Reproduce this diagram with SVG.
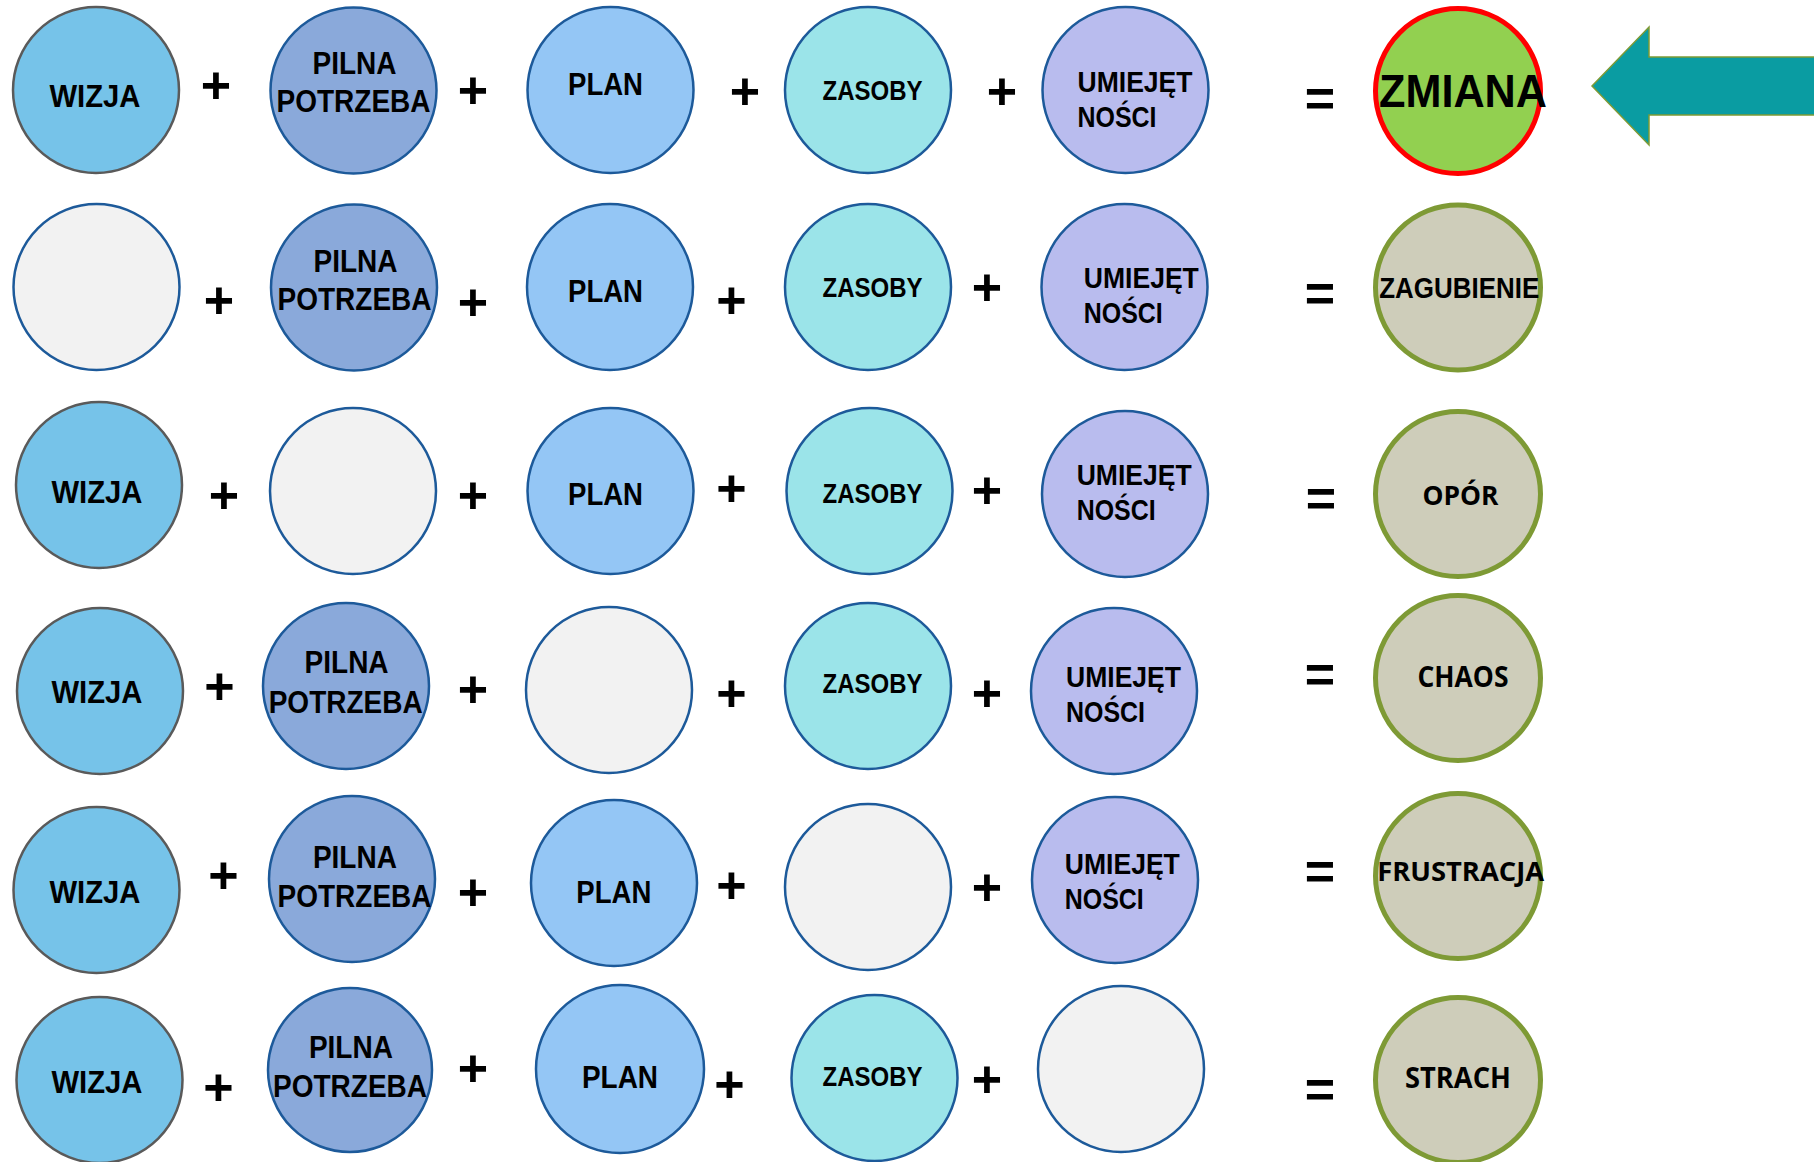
<svg xmlns="http://www.w3.org/2000/svg" width="1814" height="1162" viewBox="0 0 1814 1162">
<style>
.c{stroke-width:2.5}
.wiz{fill:#76C3E9;stroke:#5A5A5A}
.pil{fill:#8AA9DA;stroke:#1D5A9A}
.pla{fill:#94C6F5;stroke:#1D5A9A}
.zas{fill:#9BE4E9;stroke:#1D5A9A}
.umi{fill:#B9BCEE;stroke:#1D5A9A}
.emp{fill:#F2F2F2;stroke:#1D5A9A}
.res{fill:#CECDBA;stroke:#7E9A35;stroke-width:5}
.zm{fill:#92D050;stroke:#FF0000;stroke-width:5}
.t{font-family:"Liberation Sans",Arial,sans-serif;font-weight:bold;font-size:31.5px;fill:#000}
.m{text-anchor:middle}
.r{font-family:"Open Sans","Liberation Sans",sans-serif;font-weight:bold;font-size:27px;fill:#000;text-anchor:middle}
.op{font-family:"Liberation Sans",Arial,sans-serif;font-weight:bold;font-size:52px;fill:#000;text-anchor:middle;dominant-baseline:central}
</style>

<g id="row1">
<g id="r1-wizja"><circle class="c wiz" cx="96" cy="90" r="83"/><text class="t m" x="95" y="107" textLength="91" lengthAdjust="spacingAndGlyphs">WIZJA</text></g>
<g id="r1-pilna"><circle class="c pil" cx="353.5" cy="90.5" r="83"/><text class="t m" x="354.5" y="74" textLength="84" lengthAdjust="spacingAndGlyphs">PILNA</text><text class="t m" x="353.5" y="111.5" textLength="154" lengthAdjust="spacingAndGlyphs">POTRZEBA</text></g>
<g id="r1-plan"><circle class="c pla" cx="610.5" cy="90" r="83"/><text class="t m" x="605.5" y="95" textLength="75" lengthAdjust="spacingAndGlyphs">PLAN</text></g>
<g id="r1-zasoby"><circle class="c zas" cx="868" cy="90" r="83"/><text class="t m" x="872.5" y="100" style="font-size:28.5px" textLength="100" lengthAdjust="spacingAndGlyphs">ZASOBY</text></g>
<g id="r1-umiej"><circle class="c umi" cx="1125.5" cy="90" r="83"/><text class="t" x="1077.5" y="91.7" style="font-size:29.5px" textLength="115" lengthAdjust="spacingAndGlyphs">UMIEJĘT</text><text class="t" x="1077.5" y="126.7" style="font-size:29.5px" textLength="79" lengthAdjust="spacingAndGlyphs">NOŚCI</text></g>
<g id="r1-zmiana"><circle class="zm" cx="1458" cy="91" r="82.5"/><text class="t m" x="1463" y="106.7" style="font-size:47px" textLength="168" lengthAdjust="spacingAndGlyphs">ZMIANA</text></g>
</g>

<g id="row2">
<g id="r2-empty"><circle class="c emp" cx="96.5" cy="287" r="83"/></g>
<g id="r2-pilna"><circle class="c pil" cx="354" cy="287.5" r="83"/><text class="t m" x="355.5" y="271.7" textLength="84" lengthAdjust="spacingAndGlyphs">PILNA</text><text class="t m" x="354.5" y="310" textLength="154" lengthAdjust="spacingAndGlyphs">POTRZEBA</text></g>
<g id="r2-plan"><circle class="c pla" cx="610" cy="287" r="83"/><text class="t m" x="605.5" y="301.7" textLength="75" lengthAdjust="spacingAndGlyphs">PLAN</text></g>
<g id="r2-zasoby"><circle class="c zas" cx="868" cy="287" r="83"/><text class="t m" x="872.5" y="296.7" style="font-size:28.5px" textLength="100" lengthAdjust="spacingAndGlyphs">ZASOBY</text></g>
<g id="r2-umiej"><circle class="c umi" cx="1124.5" cy="287" r="83"/><text class="t" x="1083.8" y="288.3" style="font-size:29.5px" textLength="115" lengthAdjust="spacingAndGlyphs">UMIEJĘT</text><text class="t" x="1083.8" y="322.7" style="font-size:29.5px" textLength="79" lengthAdjust="spacingAndGlyphs">NOŚCI</text></g>
<g id="r2-zagubienie"><circle class="res" cx="1458" cy="287.5" r="82.5"/><text class="t m" x="1459.2" y="298.3" style="font-size:29px" textLength="160" lengthAdjust="spacingAndGlyphs">ZAGUBIENIE</text></g>
</g>

<g id="row3">
<g id="r3-wizja"><circle class="c wiz" cx="99" cy="485" r="83"/><text class="t m" x="96.9" y="503.3" textLength="91" lengthAdjust="spacingAndGlyphs">WIZJA</text></g>
<g id="r3-empty"><circle class="c emp" cx="353" cy="491" r="83"/></g>
<g id="r3-plan"><circle class="c pla" cx="610.5" cy="491" r="83"/><text class="t m" x="605.5" y="505" textLength="75" lengthAdjust="spacingAndGlyphs">PLAN</text></g>
<g id="r3-zasoby"><circle class="c zas" cx="869.5" cy="491" r="83"/><text class="t m" x="872.5" y="503.3" style="font-size:28.5px" textLength="100" lengthAdjust="spacingAndGlyphs">ZASOBY</text></g>
<g id="r3-umiej"><circle class="c umi" cx="1125" cy="494" r="83"/><text class="t" x="1076.7" y="485" style="font-size:29.5px" textLength="115" lengthAdjust="spacingAndGlyphs">UMIEJĘT</text><text class="t" x="1076.7" y="520" style="font-size:29.5px" textLength="79" lengthAdjust="spacingAndGlyphs">NOŚCI</text></g>
<g id="r3-opor"><circle class="res" cx="1458" cy="494" r="82.5"/><text class="r" x="1460.5" y="505" textLength="76" lengthAdjust="spacingAndGlyphs">OPÓR</text></g>
</g>

<g id="row4">
<g id="r4-wizja"><circle class="c wiz" cx="100" cy="691" r="83"/><text class="t m" x="96.9" y="702.7" textLength="91" lengthAdjust="spacingAndGlyphs">WIZJA</text></g>
<g id="r4-pilna"><circle class="c pil" cx="346" cy="686" r="83"/><text class="t m" x="346.6" y="673.3" textLength="84" lengthAdjust="spacingAndGlyphs">PILNA</text><text class="t m" x="345.7" y="712.7" textLength="154" lengthAdjust="spacingAndGlyphs">POTRZEBA</text></g>
<g id="r4-empty"><circle class="c emp" cx="609" cy="690" r="83"/></g>
<g id="r4-zasoby"><circle class="c zas" cx="868" cy="686" r="83"/><text class="t m" x="872.5" y="693.3" style="font-size:28.5px" textLength="100" lengthAdjust="spacingAndGlyphs">ZASOBY</text></g>
<g id="r4-umiej"><circle class="c umi" cx="1114" cy="691" r="83"/><text class="t" x="1066" y="686.7" style="font-size:29.5px" textLength="115" lengthAdjust="spacingAndGlyphs">UMIEJĘT</text><text class="t" x="1066" y="721.7" style="font-size:29.5px" textLength="79" lengthAdjust="spacingAndGlyphs">NOŚCI</text></g>
<g id="r4-chaos"><circle class="res" cx="1458" cy="678" r="82.5"/><text class="r" x="1463" y="687.3" style="font-size:28px" textLength="91" lengthAdjust="spacingAndGlyphs">CHAOS</text></g>
</g>

<g id="row5">
<g id="r5-wizja"><circle class="c wiz" cx="96.5" cy="890" r="83"/><text class="t m" x="94.9" y="903.3" textLength="91" lengthAdjust="spacingAndGlyphs">WIZJA</text></g>
<g id="r5-pilna"><circle class="c pil" cx="352" cy="879" r="83"/><text class="t m" x="354.9" y="868.3" textLength="84" lengthAdjust="spacingAndGlyphs">PILNA</text><text class="t m" x="354.5" y="906.7" textLength="154" lengthAdjust="spacingAndGlyphs">POTRZEBA</text></g>
<g id="r5-plan"><circle class="c pla" cx="614" cy="883" r="83"/><text class="t m" x="613.8" y="903.3" textLength="75" lengthAdjust="spacingAndGlyphs">PLAN</text></g>
<g id="r5-empty"><circle class="c emp" cx="868" cy="887" r="83"/></g>
<g id="r5-umiej"><circle class="c umi" cx="1115" cy="880" r="83"/><text class="t" x="1064.8" y="874" style="font-size:29.5px" textLength="115" lengthAdjust="spacingAndGlyphs">UMIEJĘT</text><text class="t" x="1064.8" y="909" style="font-size:29.5px" textLength="79" lengthAdjust="spacingAndGlyphs">NOŚCI</text></g>
<g id="r5-frustracja"><circle class="res" cx="1458" cy="876" r="82.5"/><text class="r" x="1460.7" y="880.7" style="font-size:26px" textLength="167" lengthAdjust="spacingAndGlyphs">FRUSTRACJA</text></g>
</g>

<g id="row6">
<g id="r6-wizja"><circle class="c wiz" cx="99.5" cy="1080" r="83"/><text class="t m" x="96.9" y="1093.3" textLength="91" lengthAdjust="spacingAndGlyphs">WIZJA</text></g>
<g id="r6-pilna"><circle class="c pil" cx="350" cy="1070" r="82"/><text class="t m" x="350.9" y="1058.3" textLength="84" lengthAdjust="spacingAndGlyphs">PILNA</text><text class="t m" x="350" y="1096.7" textLength="154" lengthAdjust="spacingAndGlyphs">POTRZEBA</text></g>
<g id="r6-plan"><circle class="c pla" cx="620" cy="1069" r="84"/><text class="t m" x="620" y="1088.3" textLength="76" lengthAdjust="spacingAndGlyphs">PLAN</text></g>
<g id="r6-zasoby"><circle class="c zas" cx="874.5" cy="1078" r="83"/><text class="t m" x="872.5" y="1086" style="font-size:28.5px" textLength="100" lengthAdjust="spacingAndGlyphs">ZASOBY</text></g>
<g id="r6-empty"><circle class="c emp" cx="1121" cy="1069" r="83"/></g>
<g id="r6-strach"><circle class="res" cx="1458" cy="1080" r="82.5"/><text class="r" x="1458" y="1088" style="font-size:28px" textLength="106" lengthAdjust="spacingAndGlyphs">STRACH</text></g>
</g>

<g id="operators">
<text class="op" x="216" y="85">+</text><text class="op" x="473" y="90">+</text><text class="op" x="745" y="91">+</text><text class="op" x="1002" y="91">+</text><text class="op" x="1320" y="98">=</text>
<text class="op" x="219" y="300">+</text><text class="op" x="473" y="302">+</text><text class="op" x="731.5" y="300">+</text><text class="op" x="987" y="287">+</text><text class="op" x="1320" y="293">=</text>
<text class="op" x="224" y="495">+</text><text class="op" x="473" y="495">+</text><text class="op" x="731.5" y="487.5">+</text><text class="op" x="987" y="490">+</text><text class="op" x="1321" y="498">=</text>
<text class="op" x="219.5" y="686">+</text><text class="op" x="473" y="689">+</text><text class="op" x="731.5" y="693">+</text><text class="op" x="987" y="692.5">+</text><text class="op" x="1320" y="674">=</text>
<text class="op" x="223.5" y="875">+</text><text class="op" x="473" y="892">+</text><text class="op" x="731.5" y="885">+</text><text class="op" x="987" y="887">+</text><text class="op" x="1320" y="871">=</text>
<text class="op" x="218.5" y="1087">+</text><text class="op" x="473" y="1068">+</text><text class="op" x="729.5" y="1084">+</text><text class="op" x="987" y="1079">+</text><text class="op" x="1320" y="1088.5">=</text>
</g>

<g id="arrow">
<polygon points="1592,86 1649,27 1649,57 1820,57 1820,115 1649,115 1649,145" fill="#0A9CA2" stroke="#7E9A35" stroke-width="1.5"/>
</g>
</svg>
